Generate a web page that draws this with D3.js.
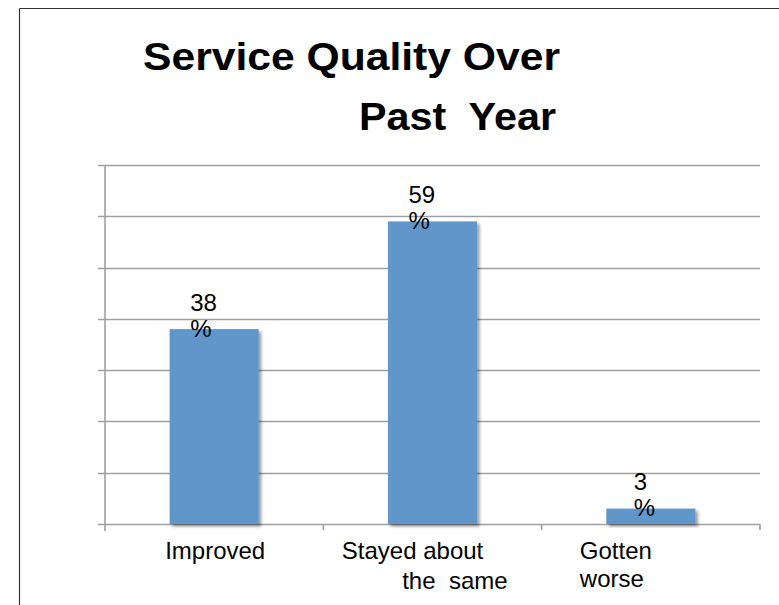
<!DOCTYPE html>
<html>
<head>
<meta charset="utf-8">
<script src="https://cdn.jsdelivr.net/npm/d3@7/dist/d3.min.js"></script>
<style>
  html, body { margin: 0; padding: 0; background: #fff; overflow: hidden; }
  svg { display: block; font-family: "Liberation Sans", Arial, sans-serif; }
  text { white-space: pre; }
</style>
</head>
<body>
<svg id="chart" width="779" height="605"></svg>
<script>
// ---- data ----
const categories = ["Improved", "Stayed about the same", "Gotten worse"];
const categoryLines = [["Improved"], ["Stayed about", "the  same"], ["Gotten", "worse"]];
const values = [38, 59, 3];
const valueLabels = ["38\n%", "59\n%", "3\n%"];
const yTicks = [0, 10, 20, 30, 40, 50, 60, 70];
const titleLines = ["Service Quality Over", "Past  Year"];

// ---- layout ----
const W = 779, H = 605;
const plot = { left: 105, right: 760, top: 165, bottom: 524 };
const gridColor = "#a0a0a0";
const barColor = "#6096ca";

const svg = d3.select("#chart");

// shadow filter
const defs = svg.append("defs");
const f = defs.append("filter").attr("id", "shadow").attr("x", "-20%").attr("y", "-20%").attr("width", "140%").attr("height", "140%");
f.append("feDropShadow").attr("dx", 2.5).attr("dy", 2.5).attr("stdDeviation", 1.8)
  .attr("flood-color", "#000").attr("flood-opacity", 0.4);

// outer frame (left + top edges visible)
svg.append("line").attr("x1", 19.5).attr("x2", 19.5).attr("y1", 8.5).attr("y2", H)
  .attr("stroke", "#333").attr("stroke-width", 1.2);
svg.append("line").attr("x1", 19.5).attr("x2", W).attr("y1", 8.5).attr("y2", 8.5)
  .attr("stroke", "#333").attr("stroke-width", 1.2);

// title
const titleG = svg.append("g").attr("font-weight", "bold").attr("fill", "#000").attr("font-size", 38);
titleG.append("text").attr("x", 560).attr("y", 70).attr("text-anchor", "end")
  .attr("textLength", 417).attr("lengthAdjust", "spacingAndGlyphs").text(titleLines[0]);
titleG.append("text").attr("x", 556).attr("y", 130).attr("text-anchor", "end")
  .attr("textLength", 197).attr("lengthAdjust", "spacingAndGlyphs").text(titleLines[1]);

// scales
const x = d3.scaleBand().domain(categories).range([plot.left, plot.right]).padding(0);
const y = d3.scaleLinear().domain([0, 70]).range([plot.bottom, plot.top]);
const barW = x.bandwidth() * 0.408;

// gridlines + left ticks
svg.append("g").selectAll("line").data(yTicks).join("line")
  .attr("x1", plot.left - 7).attr("x2", plot.right)
  .attr("y1", d => Math.round(y(d)) + 0.5).attr("y2", d => Math.round(y(d)) + 0.5)
  .attr("stroke", gridColor).attr("stroke-width", 1.6);

// left axis line
svg.append("line").attr("x1", plot.left).attr("x2", plot.left)
  .attr("y1", y(70)).attr("y2", plot.bottom + 7)
  .attr("stroke", gridColor).attr("stroke-width", 1.6);

// category boundary ticks
const bounds = d3.range(categories.length + 1).map(i => plot.left + i * x.step());
svg.append("g").selectAll("line").data(bounds.slice(1)).join("line")
  .attr("x1", d => d).attr("x2", d => d)
  .attr("y1", plot.bottom).attr("y2", plot.bottom + 6)
  .attr("stroke", gridColor).attr("stroke-width", 1.6);

// bars
svg.append("g").selectAll("rect").data(values).join("rect")
  .attr("x", (d, i) => x(categories[i]) + x.bandwidth() / 2 - barW / 2)
  .attr("y", d => y(d))
  .attr("width", barW)
  .attr("height", d => y(0) - y(d))
  .attr("fill", barColor)
  .attr("filter", "url(#shadow)");

// value labels (wrapped)
const vl = svg.append("g").attr("font-size", 24).attr("fill", "#000");
values.forEach((v, i) => {
  const cx = x(categories[i]) + x.bandwidth() / 2;
  const lx = cx - (10 + 7 * String(v).length);
  const lines = valueLabels[i].split("\n");
  const t = vl.append("text");
  t.append("tspan").attr("x", lx).attr("y", y(v) - 18.5).text(lines[0]);
  t.append("tspan").attr("x", lx).attr("y", y(v) + 7.5).text(lines[1]);
});

// category labels
const catLayout = [
  { anchor: "middle", dx: [1], dy: [0] },
  { anchor: "start", dx: [-90.7, -30.3], dy: [0, 30] },
  { anchor: "start", dx: [-71, -71], dy: [0, 27.4] }
];
const cl = svg.append("g").attr("font-size", 24).attr("fill", "#000");
categoryLines.forEach((lines, i) => {
  const cx = x(categories[i]) + x.bandwidth() / 2;
  const L = catLayout[i];
  const t = cl.append("text").attr("text-anchor", L.anchor);
  lines.forEach((ln, j) => {
    t.append("tspan").attr("x", cx + L.dx[j]).attr("y", 559.3 + L.dy[j]).text(ln);
  });
});
</script>
</body>
</html>
